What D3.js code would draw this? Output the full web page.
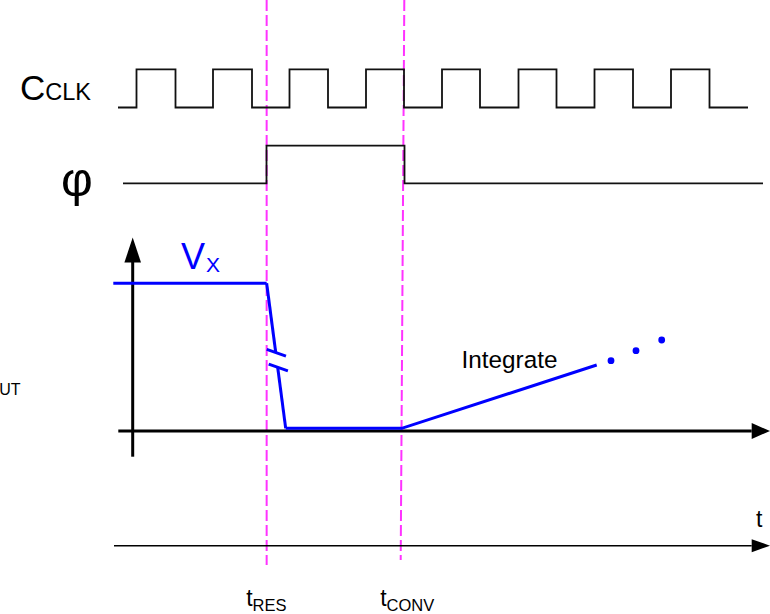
<!DOCTYPE html>
<html lang="en">
<head>
<meta charset="UTF-8">
<title>Reset / integrate timing</title>
<script src="https://d3js.org/d3.v7.min.js"></script>
<style>
    body { margin: 0; background: #fff; }
    svg { display: block; font-family: "Liberation Sans", Arial, sans-serif; }
    .wave { fill: none; stroke: #111; stroke-width: 1.8; }
    .marker { stroke: #ff33ff; stroke-width: 2; stroke-dasharray: 11 4; }
    .vx { fill: none; stroke: #0000ff; stroke-width: 3; }
    .axis-line { stroke: #000; }
</style>
</head>
<body>
<div id="chart"></div>
<script>
// time is in arbitrary units (1 unit = 5 px at this size)
const timeEnd = 130.4;
const clockSpan = [0, 126];
const clockEdges = [3.7, 11.5, 19, 26.8, 34.3, 42, 49.6, 57.2, 64.8, 72.4, 80.1, 87.7, 95.3, 103, 110.6, 118.3];
const phiSpan = [1, 129];
const phiEdges = [29.7, 57.3];

// dashed event markers: time at top / bottom of the page
const markers = [
    { name: "t", sub: "RES", top: 29.73, bottom: 29.73 },
    { name: "t", sub: "CONV", top: 57.26, bottom: 56.54 }
];

// output voltage (normalised, 1 = V_X)
const vxHold = [[-0.94, 1], [29.73, 1]];
const vxDrop = [[29.73, 1], [33.54, 0.018]];
const vxReset = [[33.54, 0.018], [56.74, 0.018]];
const vxIntegrate = [[56.74, 0.018], [95.74, 0.447]];
const vxDots = [[98.6, 0.476], [103.6, 0.544], [108.74, 0.616]];
const breakLevels = [0.53, 0.43];
const vAxisSpan = [-0.174, 1.31];
const vAxisTime = 2.94;

const width = 770, height = 614;

const svg = d3.select("#chart").append("svg")
    .attr("width", width)
    .attr("height", height);

const x = d3.scaleLinear().domain([0, 130]).range([118, 768]);
const yClk = d3.scaleLinear().domain([0, 1]).range([107.5, 69.3]);
const yPhi = d3.scaleLinear().domain([0, 1]).range([183.3, 145.7]);
const yV = d3.scaleLinear().domain([0, 1]).range([431, 283.3]);

const line = d3.line().x(d => x(d[0])).y(d => d[1]);

// digital waveform from edge list
function wavePoints(span, edges, yScale) {
    let level = 0;
    const pts = [[span[0], yScale(level)]];
    edges.forEach(e => {
        pts.push([e, yScale(level)]);
        level = 1 - level;
        pts.push([e, yScale(level)]);
    });
    pts.push([span[1], yScale(level)]);
    return pts;
}

// magenta dashed lines
svg.selectAll(".marker")
    .data(markers)
    .enter().append("line")
    .attr("class", "marker")
    .attr("x1", d => x(d.top)).attr("y1", 0)
    .attr("x2", d => x(d.bottom)).attr("y2", (d, i) => i === 0 ? 565 : 560);

svg.append("path").attr("class", "wave")
    .attr("d", line(wavePoints(clockSpan, clockEdges, yClk)));
svg.append("path").attr("class", "wave")
    .attr("d", line(wavePoints(phiSpan, phiEdges, yPhi)));

// labels of the digital rows
const clk = svg.append("text").attr("x", 20).attr("y", 100).attr("font-size", 35);
clk.append("tspan").text("C");
clk.append("tspan").attr("font-size", 23.5).text("CLK");

svg.append("text").attr("x", 61).attr("y", 195.5)
    .attr("font-size", 49).text("φ");

// analog axes
const arrowLen = 18.3;
svg.append("line").attr("class", "axis-line").attr("stroke-width", 3)
    .attr("x1", x(vAxisTime)).attr("x2", x(vAxisTime))
    .attr("y1", yV(vAxisSpan[0])).attr("y2", yV(vAxisSpan[1]) + arrowLen);
svg.append("path")
    .attr("d", `M${x(vAxisTime)},${yV(vAxisSpan[1])} l-8.3,${arrowLen + 6.7} h16.6 Z`);

svg.append("line").attr("class", "axis-line").attr("stroke-width", 3)
    .attr("x1", x(0.06)).attr("x2", x(timeEnd) - arrowLen)
    .attr("y1", yV(0)).attr("y2", yV(0));
svg.append("path")
    .attr("d", `M${x(timeEnd)},${yV(0)} l-${arrowLen},-8 v16 Z`);

// V_X waveform with break on the reset slope
const yFor = d => yV(d[1]);
const vline = d3.line().x(d => x(d[0])).y(yFor);
const dropAt = v => {
    const f = (vxDrop[0][1] - v) / (vxDrop[0][1] - vxDrop[1][1]);
    return [vxDrop[0][0] + f * (vxDrop[1][0] - vxDrop[0][0]), v];
};
const dropTop = [vxDrop[0], dropAt(breakLevels[0])];
const dropBottom = [dropAt(breakLevels[1]), vxDrop[1]];

svg.append("path").attr("class", "vx").attr("d", vline(vxHold));
svg.append("path").attr("class", "vx").attr("d", vline(dropTop));
svg.append("path").attr("class", "vx").attr("d", vline(dropBottom));
svg.append("path").attr("class", "vx").attr("d", vline(vxReset.concat(vxIntegrate.slice(1))));

svg.selectAll(".brk")
    .data(breakLevels.map(dropAt))
    .enter().append("line")
    .attr("class", "vx")
    .attr("x1", d => x(d[0]) - 9.0).attr("y1", d => yV(d[1]) - 3.3)
    .attr("x2", d => x(d[0]) + 10.2).attr("y2", d => yV(d[1]) + 3.4);

svg.selectAll(".dot")
    .data(vxDots)
    .enter().append("circle")
    .attr("cx", d => x(d[0])).attr("cy", yFor)
    .attr("r", 3.4).attr("fill", "#0000ff");

const vx = svg.append("text").attr("x", 181).attr("y", 268.5)
    .attr("font-size", 36).attr("fill", "#0000ff");
vx.append("tspan").text("V");
vx.append("tspan").attr("font-size", 21).attr("dy", 3).attr("dx", 1).text("X");

svg.append("text").attr("x", 461.5).attr("y", 368.3).attr("font-size", 24.3).text("Integrate");

const vout = svg.append("text").attr("x", 20.5).attr("y", 395)
    .attr("text-anchor", "end").attr("font-size", 22);
vout.append("tspan").text("V");
vout.append("tspan").attr("font-size", 16).text("OUT");

// time axis at the bottom
const yT = 545.7;
svg.append("line").attr("class", "axis-line").attr("stroke-width", 1.6)
    .attr("x1", x(-0.8)).attr("x2", x(timeEnd) - arrowLen)
    .attr("y1", yT).attr("y2", yT);
svg.append("path")
    .attr("d", `M${x(timeEnd)},${yT} l-${arrowLen},-6.5 v13 Z`);
svg.append("text").attr("x", 756).attr("y", 527).attr("font-size", 23).text("t");

const tl = svg.selectAll(".tlab")
    .data(markers)
    .enter().append("text")
    .attr("class", "tlab")
    .attr("x", d => x(d.bottom) - 20.5)
    .attr("y", 606)
    .attr("font-size", 23);
tl.append("tspan").text(d => d.name);
tl.append("tspan").attr("font-size", 16.5).attr("dy", 4.5).text(d => d.sub);
</script>
</body>
</html>
